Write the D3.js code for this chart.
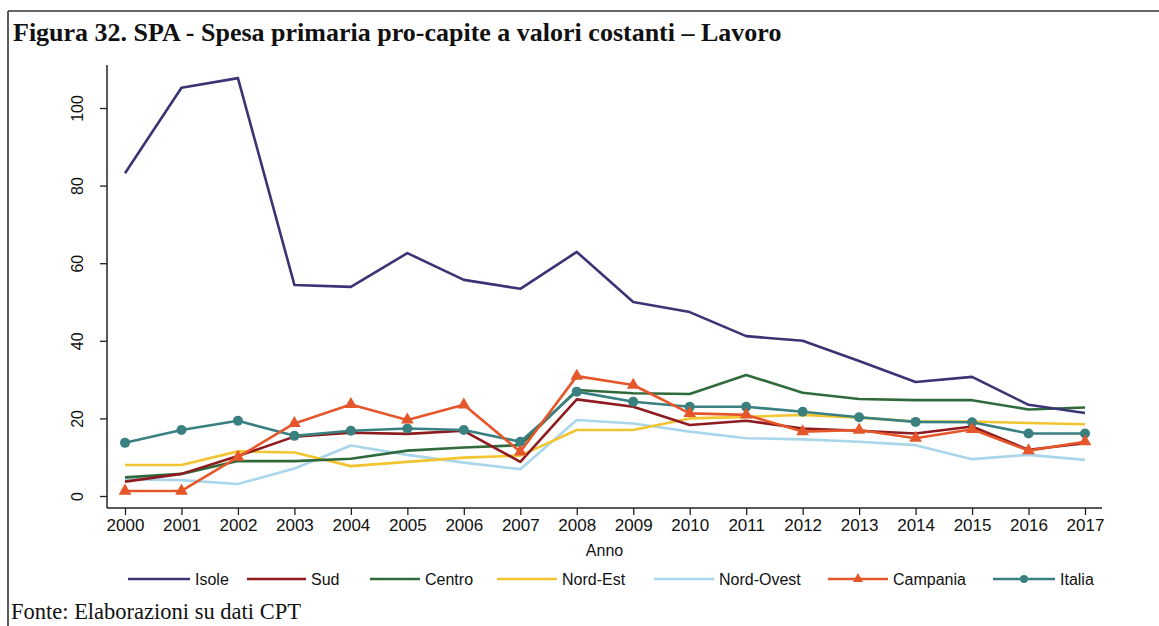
<!DOCTYPE html>
<html>
<head>
<meta charset="utf-8">
<script src="https://cdn.jsdelivr.net/npm/d3@7"></script>
<style>
  html, body { margin: 0; padding: 0; background: #ffffff; }
  svg { display: block; }
</style>
</head>
<body>
<svg id="chart" width="1159" height="626"></svg>
<script>
const years = [2000,2001,2002,2003,2004,2005,2006,2007,2008,2009,2010,2011,2012,2013,2014,2015,2016,2017];
const yTicks = [0,20,40,60,80,100];
const seriesNames = ["Isole","Sud","Centro","Nord-Est","Nord-Ovest","Campania","Italia"];
const isole     = [83.2,105.2,107.7,54.4,53.9,62.6,55.7,53.4,62.9,50.0,47.4,41.2,40.0,34.8,29.4,30.7,23.5,21.4];
const sud       = [3.7,5.7,10.3,15.3,16.3,16.0,16.8,8.8,24.9,23.0,18.3,19.4,17.4,16.8,16.1,17.9,11.9,13.6];
const centro    = [4.8,5.7,9.0,9.0,9.6,11.7,12.5,13.1,27.3,26.5,26.3,31.2,26.6,25.0,24.7,24.7,22.3,22.8];
const nordEst   = [8.0,8.0,11.5,11.2,7.7,8.8,9.9,10.4,17.0,17.0,20.0,20.4,20.9,20.2,19.2,19.2,18.8,18.5];
const nordOvest = [4.3,4.1,3.1,7.1,13.0,10.6,8.6,6.9,19.6,18.7,16.6,14.9,14.6,14.0,13.1,9.5,10.6,9.3];
const campania  = [1.3,1.3,10.0,18.7,23.6,19.6,23.5,11.4,30.9,28.6,21.3,20.9,16.6,17.0,14.9,17.2,11.7,14.0];
const italia    = [13.7,17.0,19.4,15.5,16.8,17.4,17.0,14.0,26.9,24.3,23.0,23.0,21.7,20.3,19.1,19.0,16.1,16.1];
const seriesColors = ["#3a3475","#8e1b1f","#2f6b3a","#f2c530","#a9d6ea","#e5562b","#3a8080"];
const seriesMarkers = ["none","none","none","none","none","triangle","circle"];

const dataSets = [isole, sud, centro, nordEst, nordOvest, campania, italia];
const series = seriesNames.map((n,i)=>({name:n, values:dataSets[i], color:seriesColors[i], marker:seriesMarkers[i]}));
const drawOrder = ["Nord-Ovest","Nord-Est","Centro","Sud","Italia","Campania","Isole"];

const svg = d3.select("#chart");

// frame
svg.append("line").attr("x1",8).attr("x2",1159).attr("y1",11).attr("y2",11).attr("stroke","#333").attr("stroke-width",1.6);
svg.append("line").attr("x1",8).attr("x2",8).attr("y1",11).attr("y2",626).attr("stroke","#333").attr("stroke-width",1.6);

// title
svg.append("text").attr("x",13).attr("y",41)
  .attr("font-family","'Liberation Serif','Times New Roman',serif")
  .attr("font-weight","bold").attr("font-size",26).attr("fill","#111")
  .text("Figura 32. SPA - Spesa primaria pro-capite a valori costanti – Lavoro");

// footer
svg.append("text").attr("x",11).attr("y",619)
  .attr("font-family","'Liberation Serif','Times New Roman',serif")
  .attr("font-size",22.5).attr("fill","#111")
  .text("Fonte: Elaborazioni su dati CPT");

const x = d3.scalePoint().domain(years).range([125,1085]);
const y = d3.scaleLinear().domain([0,100]).range([496,108]);

const font = "'Liberation Sans',Arial,Helvetica,sans-serif";

// axes
const xAxis = d3.axisBottom(x).tickSize(7).tickPadding(4).tickSizeOuter(0);
const gx = svg.append("g").attr("transform","translate(0,508)").call(xAxis);
gx.select(".domain").attr("d","M107,0H1102").attr("stroke","#222").attr("stroke-width",1.5);
gx.selectAll(".tick line").attr("stroke","#222").attr("stroke-width",1.3);
gx.selectAll(".tick text").attr("font-family",font).attr("font-size",17).attr("fill","#111");

const yAxis = d3.axisLeft(y).tickValues(yTicks).tickSize(7).tickSizeOuter(0);
const gy = svg.append("g").attr("transform","translate(107,0)").call(yAxis);
gy.select(".domain").attr("d","M0,65V508").attr("stroke","#222").attr("stroke-width",1.5);
gy.selectAll(".tick line").attr("stroke","#222").attr("stroke-width",1.3);
gy.selectAll(".tick text").attr("font-family",font).attr("font-size",16).attr("fill","#111")
  .attr("transform","rotate(-90)").attr("x",0).attr("dy",0).attr("y",-24).attr("text-anchor","middle");

// axis title
svg.append("text").attr("x",(107+1102)/2).attr("y",556).attr("text-anchor","middle")
  .attr("font-family",font).attr("font-size",16).attr("fill","#111").text("Anno");

// lines
const line = d3.line().x((d,i)=>x(years[i])).y(d=>y(d));
const tri = d3.symbol().type(d3.symbolTriangle).size(70);
drawOrder.forEach(name=>{
  const s = series.find(d=>d.name===name);
  const g = svg.append("g");
  g.append("path").datum(s.values).attr("d",line).attr("fill","none")
    .attr("stroke",s.color).attr("stroke-width",2.6).attr("stroke-linejoin","round");
  if (s.marker==="circle") {
    g.selectAll("circle").data(s.values).join("circle")
      .attr("cx",(d,i)=>x(years[i])).attr("cy",d=>y(d)).attr("r",5).attr("fill",s.color);
  } else if (s.marker==="triangle") {
    g.selectAll("path.m").data(s.values).join("path").attr("class","m")
      .attr("d",tri).attr("transform",(d,i)=>`translate(${x(years[i])},${y(d)})`).attr("fill",s.color);
  }
});

// legend
const legendPos = [
  {name:"Isole", lx:128, tx:195},
  {name:"Sud", lx:247, tx:311},
  {name:"Centro", lx:370, tx:425},
  {name:"Nord-Est", lx:497, tx:562},
  {name:"Nord-Ovest", lx:654, tx:719},
  {name:"Campania", lx:828, tx:893},
  {name:"Italia", lx:993, tx:1060}
];
const lg = svg.append("g");
legendPos.forEach(p=>{
  const s = series.find(d=>d.name===p.name);
  const ly = 579;
  lg.append("line").attr("x1",p.lx).attr("x2",p.tx-5).attr("y1",ly).attr("y2",ly)
    .attr("stroke",s.color).attr("stroke-width",2.6);
  const mx = (p.lx + p.tx - 5)/2;
  if (s.marker==="circle") lg.append("circle").attr("cx",mx).attr("cy",ly).attr("r",4).attr("fill",s.color);
  if (s.marker==="triangle") lg.append("path").attr("d",d3.symbol().type(d3.symbolTriangle).size(45)).attr("transform",`translate(${mx},${ly})`).attr("fill",s.color);
  lg.append("text").attr("x",p.tx).attr("y",ly+5.5).attr("font-family",font).attr("font-size",16).attr("fill","#111").text(p.name);
});
</script>
</body>
</html>
